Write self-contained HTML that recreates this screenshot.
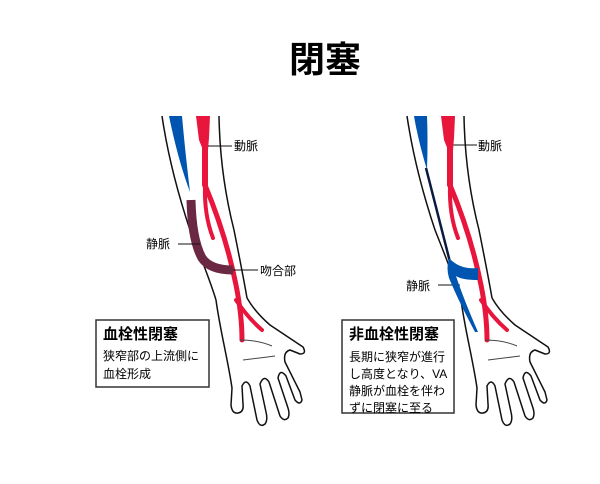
<!DOCTYPE html><html><head><meta charset="utf-8"><style>body{margin:0;background:#fff}svg{display:block}</style></head><body>
<svg width="600" height="484" viewBox="0 0 600 484" xmlns="http://www.w3.org/2000/svg" font-family="'Liberation Sans','Noto Sans CJK JP',sans-serif">
<text x="325" y="72" font-size="36" font-weight="bold" text-anchor="middle">閉塞</text>
<g id="arm">
<path d="M196,116 L210,116 L209,138 L208,150 L203,150 L199,140 Z" fill="#e8163c"/>
<g fill="none" stroke="#e8163c" stroke-linecap="round">
<path d="M205,145 L205,185" stroke-width="6"/>
<path d="M205,185 Q204,215 213,238" stroke-width="4"/>
<path d="M205,185 Q226,235 236,285 Q242,315 242,340" stroke-width="5"/>
<path d="M236,300 Q248,318 262,330" stroke-width="4"/>
</g>
<path d="M162,116 Q170,170 190,230 Q210,280 216,300" fill="none" stroke="#111" stroke-width="1.5"/>
<path d="M219,116 Q220,175 234,230 Q243,275 247,298" fill="none" stroke="#111" stroke-width="1.5"/>
<path d="M216,300 C220,330 228,360 232,388 L231,405 Q232,414 238,413 Q244,412 243,404 L242,386 Q246,378 250,386 L257,420 Q260,428 265,424 Q268,420 266,412 L260,384 Q264,374 269,382 L280,416 Q284,422 288,418 Q290,414 288,408 L278,378 Q280,368 286,376 L295,400 Q300,406 302,400 L300,392 L285,362 Q283,352 290,350 L300,354 Q307,354 303,347 Q285,335 270,325 Q255,312 247,298" fill="none" stroke="#111" stroke-width="1.5" stroke-linejoin="round"/>
<path d="M240,340 Q258,340 272,346 M243,360 Q260,358 275,356" fill="none" stroke="#444" stroke-width="1"/>
</g>
<!-- left veins -->
<path d="M169,116 L182,116 Q185,150 190,192 Q178,160 169,116 Z" fill="#0055b0"/>
<path d="M191,200 Q192,240 202,258 Q210,270 233,270" fill="none" stroke="#6a2842" stroke-width="9"/>
<g stroke="#111" stroke-width="1" fill="none"><line x1="208" y1="146" x2="232" y2="146"/><line x1="178" y1="244" x2="200" y2="244"/><line x1="233" y1="270" x2="258" y2="270"/>
<line x1="453" y1="145" x2="477" y2="145"/><line x1="438" y1="285" x2="460" y2="285"/></g>
<g font-size="12"><text x="234" y="150">動脈</text><text x="146" y="248">静脈</text><text x="260" y="275">吻合部</text>
<text x="478" y="150">動脈</text><text x="406" y="290">静脈</text></g>
<rect x="96" y="320" width="113" height="67" fill="#fff" stroke="#333" stroke-width="1.5"/>
<text x="103" y="339" font-size="15" font-weight="bold">血栓性閉塞</text>
<text x="103" y="360" font-size="12">狭窄部の上流側に</text><text x="103" y="378" font-size="12">血栓形成</text>
<!-- right arm -->
<use href="#arm" transform="translate(245,0)"/>
<path d="M414,116 L427,116 Q428,140 427,170 Q418,140 414,116 Z" fill="#0055b0"/>
<path d="M426,168 L450,262" stroke="#0a1a40" stroke-width="2.5"/>
<path d="M449,258 Q460,270 478,268 L478,280 Q462,280 456,276 Q464,300 478,332 L475,332 Q458,300 449,278 Q446,268 449,258 Z" fill="#0055b0"/>
<rect x="342" y="320" width="112" height="93" fill="#fff" stroke="#333" stroke-width="1.5"/>
<text x="349" y="339" font-size="15" font-weight="bold">非血栓性閉塞</text>
<g font-size="12"><text x="349" y="361">長期に狭窄が進行</text><text x="349" y="378">し高度となり、VA</text><text x="349" y="395">静脈が血栓を伴わ</text><text x="349" y="412">ずに閉塞に至る</text></g>
</svg></body></html>
